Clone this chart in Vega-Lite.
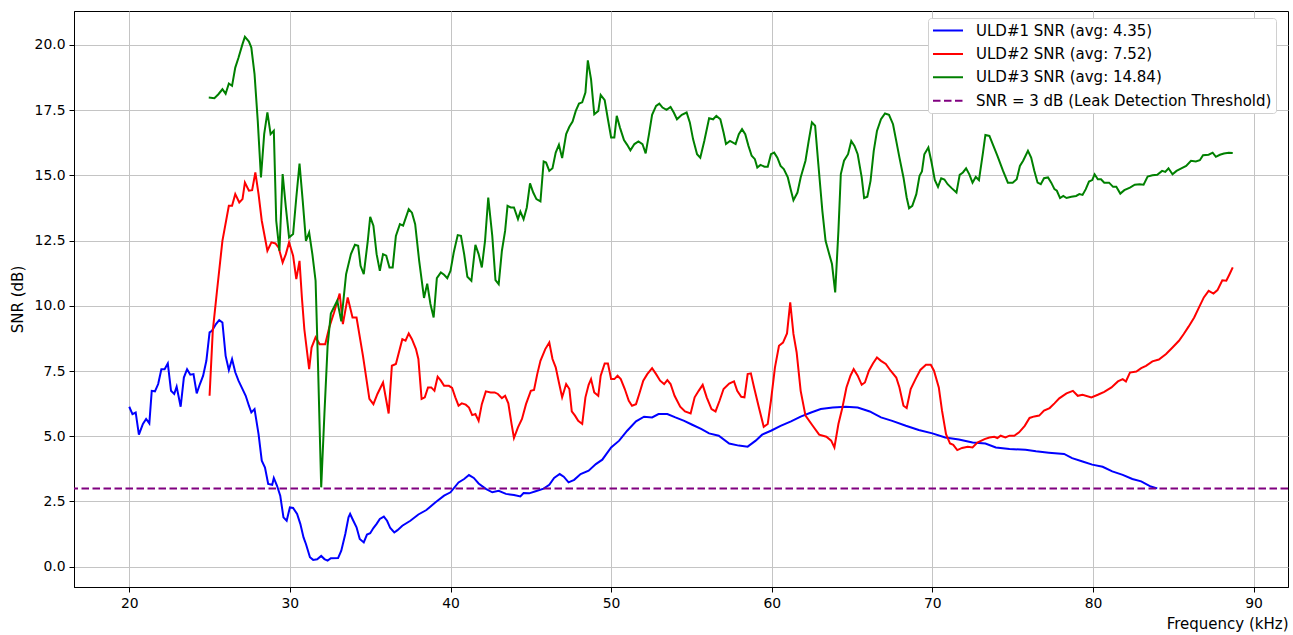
{
  "$schema": "https://vega.github.io/schema/vega-lite/v6.json",
  "autosize": {"type": "none"},
  "padding": {"left": 74, "top": 11, "right": 5, "bottom": 48},
  "width": 1214,
  "height": 576,
  "background": "white",
  "config": {
    "view": {"stroke": "black", "strokeWidth": 1},
    "font": "DejaVu Sans",
    "axis": {
      "labelFont": "DejaVu Sans", "labelFontSize": 13.9, "labelColor": "black",
      "titleFont": "DejaVu Sans", "titleFontSize": 15, "titleFontWeight": "normal", "titleColor": "black",
      "domainColor": "black", "tickColor": "black", "tickSize": 5, "labelPadding": 4,
      "gridColor": "#c4c4c4", "gridWidth": 1
    }
  },
  "datasets": {
    "u1": [
      {"f":20.0,"v":6.13},{"f":20.2,"v":5.85},{"f":20.4,"v":5.91},{"f":20.6,"v":5.06},{"f":20.85,"v":5.47},{"f":21.05,"v":5.66},{"f":21.25,"v":5.49},{"f":21.4,"v":6.74},{"f":21.6,"v":6.72},{"f":21.8,"v":7.0},{"f":22.0,"v":7.57},{"f":22.2,"v":7.57},{"f":22.4,"v":7.79},{"f":22.6,"v":6.74},{"f":22.8,"v":6.62},{"f":22.95,"v":6.9},{"f":23.2,"v":6.13},{"f":23.4,"v":7.25},{"f":23.6,"v":7.57},{"f":23.8,"v":7.36},{"f":24.0,"v":7.38},{"f":24.2,"v":6.64},{"f":24.4,"v":7.0},{"f":24.6,"v":7.32},{"f":24.8,"v":7.89},{"f":25.0,"v":8.98},{"f":25.15,"v":9.04},{"f":25.4,"v":9.3},{"f":25.6,"v":9.45},{"f":25.8,"v":9.36},{"f":26.0,"v":8.08},{"f":26.2,"v":7.54},{"f":26.4,"v":7.96},{"f":26.6,"v":7.45},{"f":26.8,"v":7.13},{"f":27.0,"v":6.87},{"f":27.25,"v":6.55},{"f":27.45,"v":6.17},{"f":27.6,"v":5.91},{"f":27.8,"v":6.04},{"f":28.05,"v":5.08},{"f":28.25,"v":4.06},{"f":28.45,"v":3.8},{"f":28.65,"v":3.17},{"f":28.9,"v":3.14},{"f":29.0,"v":3.4},{"f":29.2,"v":3.1},{"f":29.4,"v":2.72},{"f":29.6,"v":1.89},{"f":29.8,"v":1.76},{"f":30.0,"v":2.27},{"f":30.2,"v":2.25},{"f":30.45,"v":2.02},{"f":30.65,"v":1.64},{"f":30.85,"v":1.12},{"f":31.0,"v":0.87},{"f":31.25,"v":0.36},{"f":31.45,"v":0.26},{"f":31.7,"v":0.28},{"f":31.95,"v":0.41},{"f":32.15,"v":0.29},{"f":32.35,"v":0.23},{"f":32.55,"v":0.32},{"f":33.0,"v":0.33},{"f":33.2,"v":0.61},{"f":33.45,"v":1.25},{"f":33.65,"v":1.89},{"f":33.75,"v":2.02},{"f":33.95,"v":1.76},{"f":34.15,"v":1.51},{"f":34.35,"v":1.06},{"f":34.6,"v":0.93},{"f":34.8,"v":1.23},{"f":35.0,"v":1.28},{"f":35.2,"v":1.48},{"f":35.4,"v":1.64},{"f":35.6,"v":1.83},{"f":35.85,"v":1.92},{"f":36.05,"v":1.76},{"f":36.25,"v":1.48},{"f":36.5,"v":1.31},{"f":36.7,"v":1.4},{"f":37.0,"v":1.57},{"f":37.5,"v":1.76},{"f":38.0,"v":2.0},{"f":38.5,"v":2.17},{"f":39.05,"v":2.46},{"f":39.6,"v":2.72},{"f":40.0,"v":2.85},{"f":40.5,"v":3.23},{"f":40.85,"v":3.36},{"f":41.15,"v":3.51},{"f":41.45,"v":3.4},{"f":41.75,"v":3.19},{"f":42.2,"v":2.98},{"f":42.6,"v":2.85},{"f":43.0,"v":2.91},{"f":43.45,"v":2.79},{"f":43.95,"v":2.75},{"f":44.35,"v":2.69},{"f":44.55,"v":2.82},{"f":44.9,"v":2.81},{"f":45.3,"v":2.89},{"f":45.8,"v":2.99},{"f":46.15,"v":3.14},{"f":46.45,"v":3.4},{"f":46.8,"v":3.55},{"f":47.05,"v":3.45},{"f":47.35,"v":3.23},{"f":47.7,"v":3.33},{"f":48.1,"v":3.55},{"f":48.6,"v":3.68},{"f":49.05,"v":3.93},{"f":49.45,"v":4.1},{"f":50.0,"v":4.57},{"f":50.5,"v":4.83},{"f":51.0,"v":5.21},{"f":51.55,"v":5.57},{"f":52.05,"v":5.75},{"f":52.55,"v":5.72},{"f":52.95,"v":5.85},{"f":53.5,"v":5.85},{"f":54.0,"v":5.72},{"f":54.55,"v":5.59},{"f":55.05,"v":5.44},{"f":55.6,"v":5.28},{"f":56.1,"v":5.11},{"f":56.7,"v":5.02},{"f":57.35,"v":4.72},{"f":57.95,"v":4.64},{"f":58.5,"v":4.6},{"f":59.0,"v":4.83},{"f":59.4,"v":5.06},{"f":59.95,"v":5.21},{"f":60.55,"v":5.4},{"f":61.2,"v":5.57},{"f":61.8,"v":5.75},{"f":62.45,"v":5.91},{"f":63.05,"v":6.04},{"f":63.8,"v":6.1},{"f":64.6,"v":6.13},{"f":65.35,"v":6.1},{"f":66.1,"v":5.95},{"f":66.8,"v":5.72},{"f":67.5,"v":5.59},{"f":68.35,"v":5.4},{"f":69.15,"v":5.24},{"f":70.0,"v":5.11},{"f":70.8,"v":4.95},{"f":71.65,"v":4.87},{"f":72.5,"v":4.76},{"f":73.3,"v":4.72},{"f":73.95,"v":4.57},{"f":74.8,"v":4.51},{"f":75.8,"v":4.48},{"f":76.45,"v":4.42},{"f":77.25,"v":4.37},{"f":78.2,"v":4.32},{"f":78.7,"v":4.16},{"f":79.35,"v":4.03},{"f":79.95,"v":3.91},{"f":80.6,"v":3.83},{"f":81.2,"v":3.65},{"f":81.85,"v":3.52},{"f":82.45,"v":3.36},{"f":83.0,"v":3.27},{"f":83.6,"v":3.07},{"f":84.0,"v":3.0}
    ],
    "u2": [
      {"f":25.0,"v":6.55},{"f":25.2,"v":9.04},{"f":25.45,"v":10.5},{"f":25.8,"v":12.49},{"f":26.2,"v":13.83},{"f":26.4,"v":13.83},{"f":26.6,"v":14.28},{"f":26.85,"v":13.96},{"f":27.05,"v":14.09},{"f":27.2,"v":14.72},{"f":27.45,"v":14.41},{"f":27.65,"v":14.43},{"f":27.85,"v":15.11},{"f":28.05,"v":14.28},{"f":28.25,"v":13.26},{"f":28.6,"v":12.11},{"f":28.85,"v":12.43},{"f":29.1,"v":12.39},{"f":29.3,"v":12.23},{"f":29.55,"v":11.66},{"f":29.75,"v":11.98},{"f":29.95,"v":12.43},{"f":30.2,"v":11.92},{"f":30.4,"v":11.02},{"f":30.6,"v":11.72},{"f":30.75,"v":10.3},{"f":30.9,"v":9.1},{"f":31.2,"v":7.57},{"f":31.35,"v":8.4},{"f":31.6,"v":8.79},{"f":31.85,"v":8.53},{"f":32.2,"v":8.53},{"f":32.45,"v":9.17},{"f":32.75,"v":9.74},{"f":33.1,"v":10.47},{"f":33.3,"v":9.3},{"f":33.6,"v":10.32},{"f":33.9,"v":9.55},{"f":34.15,"v":9.55},{"f":34.55,"v":8.08},{"f":34.95,"v":6.43},{"f":35.2,"v":6.23},{"f":35.45,"v":6.62},{"f":35.8,"v":7.06},{"f":36.15,"v":5.87},{"f":36.35,"v":7.7},{"f":36.6,"v":7.77},{"f":37.0,"v":8.72},{"f":37.2,"v":8.66},{"f":37.4,"v":8.94},{"f":37.6,"v":8.72},{"f":37.85,"v":8.34},{"f":38.0,"v":7.96},{"f":38.2,"v":6.43},{"f":38.4,"v":6.49},{"f":38.6,"v":6.87},{"f":38.8,"v":6.87},{"f":39.0,"v":6.74},{"f":39.2,"v":7.28},{"f":39.4,"v":7.13},{"f":39.6,"v":6.93},{"f":39.9,"v":6.93},{"f":40.1,"v":6.85},{"f":40.3,"v":6.49},{"f":40.5,"v":6.17},{"f":40.7,"v":6.26},{"f":40.95,"v":6.21},{"f":41.15,"v":6.1},{"f":41.35,"v":5.81},{"f":41.55,"v":5.85},{"f":41.75,"v":5.59},{"f":41.95,"v":6.23},{"f":42.2,"v":6.72},{"f":42.5,"v":6.68},{"f":42.75,"v":6.68},{"f":42.95,"v":6.62},{"f":43.2,"v":6.46},{"f":43.4,"v":6.55},{"f":43.6,"v":6.26},{"f":43.8,"v":5.47},{"f":43.95,"v":4.93},{"f":44.2,"v":5.34},{"f":44.45,"v":5.66},{"f":44.7,"v":6.23},{"f":45.0,"v":6.74},{"f":45.2,"v":6.77},{"f":45.4,"v":7.38},{"f":45.6,"v":7.89},{"f":45.9,"v":8.34},{"f":46.15,"v":8.59},{"f":46.35,"v":7.96},{"f":46.55,"v":7.64},{"f":46.75,"v":7.06},{"f":46.95,"v":6.49},{"f":47.2,"v":7.0},{"f":47.4,"v":6.81},{"f":47.55,"v":5.95},{"f":47.75,"v":5.79},{"f":47.95,"v":5.59},{"f":48.2,"v":5.47},{"f":48.4,"v":6.49},{"f":48.6,"v":6.97},{"f":48.75,"v":7.19},{"f":48.95,"v":6.68},{"f":49.2,"v":6.55},{"f":49.35,"v":7.32},{"f":49.6,"v":7.79},{"f":49.8,"v":7.79},{"f":50.0,"v":7.19},{"f":50.2,"v":7.19},{"f":50.4,"v":7.32},{"f":50.6,"v":7.19},{"f":50.85,"v":6.81},{"f":51.1,"v":6.36},{"f":51.3,"v":6.17},{"f":51.55,"v":6.23},{"f":51.75,"v":6.62},{"f":52.0,"v":7.13},{"f":52.25,"v":7.38},{"f":52.55,"v":7.61},{"f":52.8,"v":7.38},{"f":53.05,"v":7.13},{"f":53.3,"v":7.0},{"f":53.5,"v":7.15},{"f":53.7,"v":7.0},{"f":53.95,"v":6.55},{"f":54.3,"v":6.13},{"f":54.6,"v":5.95},{"f":54.95,"v":5.87},{"f":55.2,"v":6.49},{"f":55.45,"v":6.74},{"f":55.7,"v":6.97},{"f":55.95,"v":6.49},{"f":56.25,"v":6.04},{"f":56.5,"v":5.95},{"f":56.75,"v":6.36},{"f":57.0,"v":6.81},{"f":57.35,"v":7.02},{"f":57.65,"v":7.1},{"f":57.85,"v":6.74},{"f":58.1,"v":6.51},{"f":58.3,"v":6.49},{"f":58.5,"v":7.38},{"f":58.7,"v":7.41},{"f":58.9,"v":6.87},{"f":59.2,"v":6.1},{"f":59.5,"v":5.36},{"f":59.75,"v":5.47},{"f":59.95,"v":6.36},{"f":60.2,"v":7.64},{"f":60.45,"v":8.47},{"f":60.7,"v":8.59},{"f":60.95,"v":8.94},{"f":61.15,"v":10.13},{"f":61.35,"v":8.92},{"f":61.55,"v":8.21},{"f":61.8,"v":6.74},{"f":62.1,"v":5.79},{"f":62.55,"v":5.4},{"f":62.95,"v":5.06},{"f":63.4,"v":4.98},{"f":63.7,"v":4.83},{"f":63.9,"v":4.57},{"f":64.15,"v":5.47},{"f":64.4,"v":6.1},{"f":64.65,"v":6.87},{"f":64.9,"v":7.32},{"f":65.1,"v":7.57},{"f":65.35,"v":7.32},{"f":65.6,"v":6.97},{"f":65.8,"v":7.06},{"f":66.05,"v":7.51},{"f":66.3,"v":7.79},{"f":66.55,"v":8.02},{"f":66.8,"v":7.89},{"f":67.1,"v":7.77},{"f":67.4,"v":7.51},{"f":67.75,"v":7.25},{"f":67.95,"v":6.87},{"f":68.2,"v":6.17},{"f":68.4,"v":6.08},{"f":68.65,"v":6.81},{"f":68.95,"v":7.19},{"f":69.25,"v":7.54},{"f":69.6,"v":7.74},{"f":69.9,"v":7.74},{"f":70.1,"v":7.51},{"f":70.4,"v":6.87},{"f":70.6,"v":5.98},{"f":70.85,"v":5.08},{"f":71.1,"v":4.72},{"f":71.3,"v":4.67},{"f":71.55,"v":4.47},{"f":71.85,"v":4.55},{"f":72.2,"v":4.6},{"f":72.5,"v":4.57},{"f":72.8,"v":4.76},{"f":73.25,"v":4.89},{"f":73.55,"v":4.95},{"f":73.85,"v":4.98},{"f":74.05,"v":4.93},{"f":74.25,"v":5.02},{"f":74.55,"v":4.95},{"f":74.8,"v":5.02},{"f":75.1,"v":5.02},{"f":75.4,"v":5.15},{"f":75.75,"v":5.4},{"f":76.05,"v":5.7},{"f":76.35,"v":5.76},{"f":76.65,"v":5.79},{"f":76.95,"v":5.98},{"f":77.3,"v":6.08},{"f":77.6,"v":6.26},{"f":77.9,"v":6.45},{"f":78.35,"v":6.64},{"f":78.75,"v":6.74},{"f":79.05,"v":6.55},{"f":79.35,"v":6.59},{"f":79.9,"v":6.49},{"f":80.3,"v":6.59},{"f":80.7,"v":6.7},{"f":81.15,"v":6.87},{"f":81.55,"v":7.1},{"f":81.85,"v":7.19},{"f":82.05,"v":7.1},{"f":82.3,"v":7.44},{"f":82.7,"v":7.48},{"f":83.0,"v":7.61},{"f":83.3,"v":7.7},{"f":83.7,"v":7.87},{"f":84.1,"v":7.94},{"f":84.55,"v":8.15},{"f":84.95,"v":8.4},{"f":85.35,"v":8.66},{"f":85.65,"v":8.92},{"f":85.95,"v":9.2},{"f":86.3,"v":9.55},{"f":86.6,"v":9.94},{"f":86.9,"v":10.32},{"f":87.2,"v":10.57},{"f":87.5,"v":10.47},{"f":87.75,"v":10.6},{"f":88.05,"v":10.98},{"f":88.3,"v":10.96},{"f":88.5,"v":11.21},{"f":88.7,"v":11.47}
    ],
    "u3": [
      {"f":24.95,"v":17.98},{"f":25.3,"v":17.96},{"f":25.55,"v":18.11},{"f":25.8,"v":18.3},{"f":26.0,"v":18.13},{"f":26.2,"v":18.52},{"f":26.4,"v":18.43},{"f":26.6,"v":19.13},{"f":26.8,"v":19.51},{"f":27.05,"v":20.03},{"f":27.2,"v":20.31},{"f":27.45,"v":20.13},{"f":27.6,"v":19.9},{"f":27.8,"v":18.88},{"f":28.0,"v":17.09},{"f":28.2,"v":14.92},{"f":28.4,"v":16.58},{"f":28.6,"v":17.41},{"f":28.8,"v":16.58},{"f":29.0,"v":16.71},{"f":29.15,"v":13.26},{"f":29.35,"v":12.11},{"f":29.55,"v":15.05},{"f":29.75,"v":13.77},{"f":29.95,"v":12.62},{"f":30.2,"v":12.75},{"f":30.4,"v":14.15},{"f":30.6,"v":15.45},{"f":30.8,"v":14.02},{"f":31.0,"v":12.49},{"f":31.2,"v":12.81},{"f":31.4,"v":11.98},{"f":31.6,"v":10.96},{"f":31.75,"v":7.77},{"f":31.95,"v":3.04},{"f":32.15,"v":5.85},{"f":32.35,"v":8.47},{"f":32.55,"v":9.7},{"f":32.95,"v":10.2},{"f":33.2,"v":9.4},{"f":33.5,"v":11.21},{"f":33.8,"v":11.98},{"f":34.05,"v":12.34},{"f":34.25,"v":12.3},{"f":34.4,"v":11.53},{"f":34.6,"v":11.21},{"f":34.85,"v":12.49},{"f":35.0,"v":13.41},{"f":35.2,"v":13.07},{"f":35.4,"v":11.98},{"f":35.6,"v":11.34},{"f":35.8,"v":11.98},{"f":36.0,"v":11.92},{"f":36.2,"v":11.47},{"f":36.4,"v":11.47},{"f":36.6,"v":12.68},{"f":36.85,"v":13.13},{"f":37.05,"v":13.07},{"f":37.4,"v":13.7},{"f":37.6,"v":13.57},{"f":37.8,"v":13.13},{"f":38.05,"v":11.72},{"f":38.35,"v":10.3},{"f":38.55,"v":10.85},{"f":38.75,"v":10.07},{"f":38.95,"v":9.55},{"f":39.15,"v":11.06},{"f":39.4,"v":11.28},{"f":39.6,"v":11.19},{"f":39.8,"v":11.06},{"f":40.0,"v":11.34},{"f":40.2,"v":12.04},{"f":40.45,"v":12.71},{"f":40.65,"v":12.68},{"f":40.85,"v":11.98},{"f":41.05,"v":11.11},{"f":41.3,"v":10.96},{"f":41.55,"v":12.34},{"f":41.75,"v":11.98},{"f":41.95,"v":11.47},{"f":42.15,"v":12.49},{"f":42.35,"v":14.15},{"f":42.6,"v":12.68},{"f":42.8,"v":10.98},{"f":43.0,"v":10.83},{"f":43.2,"v":12.11},{"f":43.4,"v":12.87},{"f":43.55,"v":13.83},{"f":43.75,"v":13.77},{"f":43.95,"v":13.77},{"f":44.2,"v":13.32},{"f":44.35,"v":13.61},{"f":44.55,"v":13.32},{"f":44.75,"v":13.77},{"f":44.95,"v":14.69},{"f":45.15,"v":14.34},{"f":45.35,"v":14.09},{"f":45.6,"v":14.0},{"f":45.8,"v":15.53},{"f":45.95,"v":15.49},{"f":46.15,"v":15.17},{"f":46.35,"v":15.27},{"f":46.55,"v":15.87},{"f":46.75,"v":16.17},{"f":46.95,"v":15.66},{"f":47.2,"v":16.58},{"f":47.4,"v":16.86},{"f":47.6,"v":17.06},{"f":47.8,"v":17.47},{"f":48.0,"v":17.75},{"f":48.2,"v":17.8},{"f":48.4,"v":18.17},{"f":48.55,"v":19.41},{"f":48.75,"v":18.68},{"f":48.95,"v":17.34},{"f":49.2,"v":17.47},{"f":49.35,"v":18.08},{"f":49.6,"v":17.88},{"f":49.8,"v":17.15},{"f":50.0,"v":16.45},{"f":50.2,"v":16.45},{"f":50.35,"v":17.28},{"f":50.55,"v":16.83},{"f":50.8,"v":16.35},{"f":51.0,"v":16.17},{"f":51.2,"v":15.96},{"f":51.45,"v":16.2},{"f":51.7,"v":16.3},{"f":51.95,"v":16.2},{"f":52.15,"v":15.84},{"f":52.35,"v":16.55},{"f":52.55,"v":17.32},{"f":52.8,"v":17.66},{"f":53.0,"v":17.75},{"f":53.2,"v":17.6},{"f":53.45,"v":17.51},{"f":53.7,"v":17.62},{"f":53.9,"v":17.41},{"f":54.1,"v":17.15},{"f":54.4,"v":17.32},{"f":54.7,"v":17.41},{"f":54.9,"v":17.03},{"f":55.1,"v":16.39},{"f":55.35,"v":15.81},{"f":55.55,"v":15.68},{"f":55.8,"v":16.32},{"f":56.1,"v":17.19},{"f":56.35,"v":17.15},{"f":56.55,"v":17.28},{"f":56.8,"v":17.15},{"f":57.0,"v":16.64},{"f":57.15,"v":16.2},{"f":57.4,"v":16.32},{"f":57.75,"v":16.2},{"f":57.95,"v":16.58},{"f":58.15,"v":16.77},{"f":58.35,"v":16.58},{"f":58.55,"v":16.13},{"f":58.75,"v":15.75},{"f":58.95,"v":15.62},{"f":59.1,"v":15.3},{"f":59.3,"v":15.4},{"f":59.55,"v":15.33},{"f":59.75,"v":15.33},{"f":59.95,"v":15.81},{"f":60.15,"v":15.87},{"f":60.35,"v":15.68},{"f":60.55,"v":15.36},{"f":60.75,"v":15.24},{"f":61.0,"v":14.92},{"f":61.2,"v":14.41},{"f":61.35,"v":14.05},{"f":61.6,"v":14.34},{"f":61.8,"v":14.92},{"f":62.1,"v":15.56},{"f":62.3,"v":16.32},{"f":62.5,"v":17.03},{"f":62.7,"v":16.9},{"f":62.9,"v":15.43},{"f":63.15,"v":13.64},{"f":63.35,"v":12.49},{"f":63.55,"v":12.04},{"f":63.75,"v":11.6},{"f":63.95,"v":10.51},{"f":64.15,"v":12.87},{"f":64.3,"v":15.05},{"f":64.5,"v":15.56},{"f":64.75,"v":15.81},{"f":64.95,"v":16.32},{"f":65.15,"v":16.13},{"f":65.35,"v":15.81},{"f":65.6,"v":14.92},{"f":65.75,"v":14.13},{"f":65.95,"v":14.18},{"f":66.15,"v":14.79},{"f":66.35,"v":15.94},{"f":66.55,"v":16.7},{"f":66.8,"v":17.15},{"f":67.05,"v":17.37},{"f":67.3,"v":17.32},{"f":67.55,"v":16.96},{"f":67.75,"v":16.32},{"f":67.95,"v":15.68},{"f":68.2,"v":14.92},{"f":68.4,"v":14.15},{"f":68.55,"v":13.74},{"f":68.75,"v":13.83},{"f":69.0,"v":14.28},{"f":69.2,"v":14.98},{"f":69.35,"v":15.15},{"f":69.5,"v":15.81},{"f":69.75,"v":16.07},{"f":69.95,"v":15.49},{"f":70.15,"v":14.82},{"f":70.35,"v":14.56},{"f":70.55,"v":14.89},{"f":70.75,"v":14.84},{"f":70.95,"v":14.66},{"f":71.2,"v":14.51},{"f":71.5,"v":14.34},{"f":71.7,"v":15.02},{"f":71.9,"v":15.11},{"f":72.1,"v":15.27},{"f":72.3,"v":15.04},{"f":72.5,"v":14.72},{"f":72.7,"v":14.94},{"f":72.9,"v":14.82},{"f":73.15,"v":15.87},{"f":73.3,"v":16.55},{"f":73.55,"v":16.51},{"f":73.8,"v":16.13},{"f":74.05,"v":15.75},{"f":74.4,"v":15.17},{"f":74.7,"v":14.72},{"f":75.0,"v":14.72},{"f":75.25,"v":14.85},{"f":75.45,"v":15.36},{"f":75.65,"v":15.56},{"f":75.95,"v":15.94},{"f":76.15,"v":15.68},{"f":76.35,"v":15.17},{"f":76.55,"v":14.72},{"f":76.75,"v":14.66},{"f":76.95,"v":14.89},{"f":77.2,"v":14.92},{"f":77.4,"v":14.72},{"f":77.6,"v":14.47},{"f":77.75,"v":14.41},{"f":77.95,"v":14.13},{"f":78.15,"v":14.21},{"f":78.35,"v":14.13},{"f":78.65,"v":14.18},{"f":78.95,"v":14.21},{"f":79.15,"v":14.28},{"f":79.35,"v":14.25},{"f":79.55,"v":14.47},{"f":79.75,"v":14.76},{"f":79.95,"v":14.82},{"f":80.1,"v":15.04},{"f":80.3,"v":14.85},{"f":80.5,"v":14.85},{"f":80.7,"v":14.72},{"f":81.0,"v":14.72},{"f":81.25,"v":14.56},{"f":81.45,"v":14.56},{"f":81.7,"v":14.3},{"f":81.95,"v":14.43},{"f":82.3,"v":14.53},{"f":82.6,"v":14.64},{"f":82.9,"v":14.66},{"f":83.15,"v":14.64},{"f":83.4,"v":14.95},{"f":83.7,"v":15.0},{"f":84.0,"v":15.02},{"f":84.3,"v":15.17},{"f":84.5,"v":15.13},{"f":84.7,"v":15.27},{"f":84.95,"v":15.04},{"f":85.2,"v":15.17},{"f":85.5,"v":15.27},{"f":85.8,"v":15.36},{"f":86.1,"v":15.56},{"f":86.4,"v":15.53},{"f":86.65,"v":15.58},{"f":86.85,"v":15.77},{"f":87.2,"v":15.79},{"f":87.45,"v":15.87},{"f":87.65,"v":15.71},{"f":87.9,"v":15.79},{"f":88.15,"v":15.84},{"f":88.45,"v":15.87},{"f":88.7,"v":15.86}
    ],
    "thr": [{"v": 3}]
  },
  "encoding": {
    "x": {
      "field": "f", "type": "quantitative",
      "scale": {"domain": [16.56, 92.14], "nice": false, "zero": false},
      "axis": {"title": "Frequency (kHz)", "values": [20,30,40,50,60,70,80,90], "titleAnchor": "end", "titlePadding": 7, "grid": true}
    },
    "y": {
      "field": "v", "type": "quantitative",
      "scale": {"domain": [-0.78, 21.3], "nice": false, "zero": false},
      "axis": {"title": "SNR (dB)", "values": [0,2.5,5,7.5,10,12.5,15,17.5,20], "format": ".1f", "titlePadding": 9, "grid": true}
    },
    "color": {
      "scale": {
        "domain": ["ULD#1 SNR (avg: 4.35)", "ULD#2 SNR (avg: 7.52)", "ULD#3 SNR (avg: 14.84)", "SNR = 3 dB (Leak Detection Threshold)"],
        "range": ["#0000ff", "#ff0000", "#008000", "#800080"]
      },
      "legend": {
        "title": null, "orient": "none", "legendX": 854, "legendY": 7,
        "symbolType": "M-1,0H3", "symbolSize": 225, "symbolStrokeWidth": 2,
        "labelFont": "DejaVu Sans", "labelFontSize": 15, "labelColor": "black", "labelOffset": 27, "labelLimit": 400,
        "rowPadding": 6.4, "padding": 4, "fillColor": "white", "strokeColor": "#d0d0d0", "cornerRadius": 3,
        "encode": {"symbols": {"update": {"strokeDash": {"signal": "datum.value == 'SNR = 3 dB (Leak Detection Threshold)' ? [7.5, 3.5] : [1, 0]"}}}}
      }
    }
  },
  "layer": [
    {"data": {"name": "u1"}, "mark": {"type": "line", "strokeWidth": 2}, "encoding": {"color": {"datum": "ULD#1 SNR (avg: 4.35)"}}},
    {"data": {"name": "u2"}, "mark": {"type": "line", "strokeWidth": 2}, "encoding": {"color": {"datum": "ULD#2 SNR (avg: 7.52)"}}},
    {"data": {"name": "u3"}, "mark": {"type": "line", "strokeWidth": 2}, "encoding": {"color": {"datum": "ULD#3 SNR (avg: 14.84)"}}},
    {"data": {"name": "thr"}, "mark": {"type": "rule", "strokeWidth": 2, "strokeDash": [7.5, 3.5]}, "encoding": {"x": null, "color": {"datum": "SNR = 3 dB (Leak Detection Threshold)"}}}
  ]
}
